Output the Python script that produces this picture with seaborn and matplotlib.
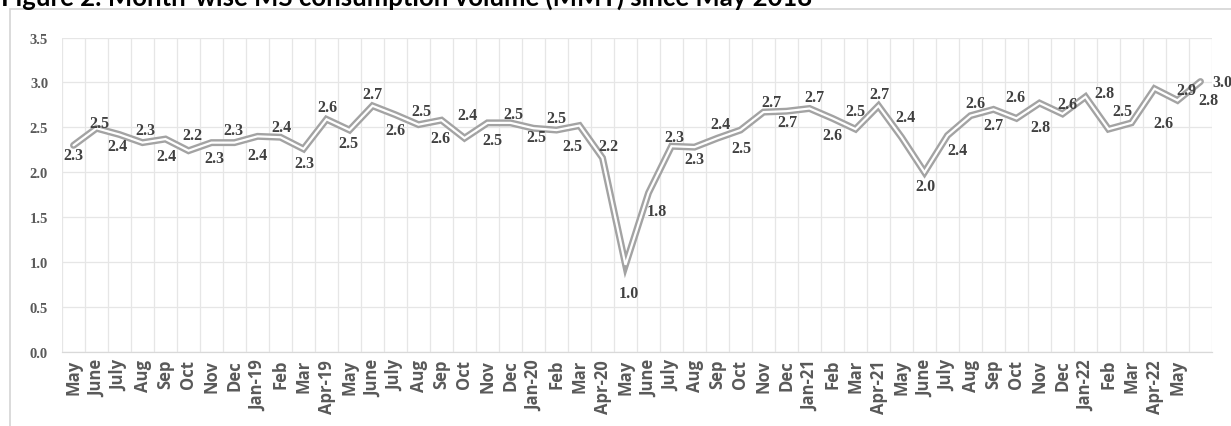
import numpy as np
import pandas as pd
import matplotlib
matplotlib.use("Agg")
import matplotlib.pyplot as plt
import seaborn as sns
from matplotlib.patches import Rectangle

# month labels on the x axis (last month has no printed label)
months = ["May", "June", "July", "Aug", "Sep", "Oct", "Nov", "Dec", "Jan-19", "Feb",
          "Mar", "Apr-19", "May", "June", "July", "Aug", "Sep", "Oct", "Nov", "Dec",
          "Jan-20", "Feb", "Mar", "Apr-20", "May", "June", "July", "Aug", "Sep", "Oct",
          "Nov", "Dec", "Jan-21", "Feb", "Mar", "Apr-21", "May", "June", "July", "Aug",
          "Sep", "Oct", "Nov", "Dec", "Jan-22", "Feb", "Mar", "Apr-22", "May", ""]

# MS consumption volume (MMT)
volume = [2.30, 2.49, 2.42, 2.33, 2.37, 2.24, 2.33, 2.33, 2.40, 2.39,
          2.26, 2.59, 2.47, 2.74, 2.64, 2.53, 2.58, 2.38, 2.55, 2.55,
          2.49, 2.47, 2.52, 2.16, 0.97, 1.77, 2.29, 2.28, 2.38, 2.47,
          2.67, 2.68, 2.71, 2.60, 2.48, 2.74, 2.39, 2.00, 2.41, 2.63,
          2.70, 2.60, 2.77, 2.65, 2.84, 2.48, 2.55, 2.93, 2.80, 3.01]

# data labels as printed on the chart
value_labels = ["2.3", "2.5", "2.4", "2.3", "2.4", "2.2", "2.3", "2.3", "2.4", "2.4",
                "2.3", "2.6", "2.5", "2.7", "2.6", "2.5", "2.6", "2.4", "2.5", "2.5",
                "2.5", "2.5", "2.5", "2.2", "1.0", "1.8", "2.3", "2.3", "2.4", "2.5",
                "2.7", "2.7", "2.7", "2.6", "2.5", "2.7", "2.4", "2.0", "2.4", "2.6",
                "2.7", "2.6", "2.8", "2.6", "2.8", "2.5", "2.6", "2.9", "2.8", "3.0"]

# label placement (pixels right / pixels down from the point)
label_offsets = [(0, 10), (3, -5), (-2, 11), (3, -13), (1, 17), (4, -16), (3, 15), (-1, -13),
                 (0, 19), (1, -10), (1, 14), (1, -12), (-1, 13), (0, -12), (0, 15), (3, -14),
                 (-1, 18), (3, -23), (5, 17), (3, -9), (3, 9), (0, -12), (-7, 20), (6, -12),
                 (3, 28), (8, 18), (3, -9), (0, 12), (3, -14), (1, 18), (8, -10), (1, 11),
                 (5, -11), (0, 17), (0, -18), (1, -12), (4, -20), (1, 14), (10, 15), (5, -13),
                 (0, 16), (-1, -21), (1, 24), (5, -10), (19, -4), (14, -18), (32, 0), (32, 1),
                 (31, 0), (22, 0)]

df = pd.DataFrame({"pos": np.arange(len(volume)), "volume": volume})

sns.set_theme(style="whitegrid")
W, H = 1231, 427
fig = plt.figure(figsize=(W / 100, H / 100), dpi=100)
ax = fig.add_axes([62 / W, 1 - 353 / H, 1150 / W, (353 - 38.5) / H])

grid_c = "#e6e6e6"

# double line: thick grey stroke with a thin white core
sns.lineplot(data=df, x="pos", y="volume", ax=ax, color="#a3a3a3", linewidth=5.0,
             solid_joinstyle="miter", zorder=3)
sns.lineplot(data=df, x="pos", y="volume", ax=ax, color="white", linewidth=1.6,
             solid_joinstyle="miter", zorder=4)

for i, (txt, (dx, dy)) in enumerate(zip(value_labels, label_offsets)):
    ax.annotate(txt, (i, volume[i]), xytext=(dx, -dy), textcoords="offset pixels",
                ha="center", va="center", fontsize=11.5, fontweight="bold",
                family="Liberation Serif", color="#404040", zorder=5,
                annotation_clip=False)

ax.set_xlim(-0.5, len(volume) - 0.5)
ax.set_ylim(0, 3.5)
ax.set_yticks(np.arange(0, 3.51, 0.5))
ax.set_yticklabels([f"{v:.1f}" for v in np.arange(0, 3.51, 0.5)],
                   family="Liberation Serif", fontweight="bold", fontsize=10.5, color="#595959")
ax.set_xticks(np.arange(len(months)))
ax.set_xticklabels(months, rotation=90, family="Open Sans", fontweight="bold",
                   fontsize=12, color="#595959")
ax.set_xticks(np.arange(-0.5, len(months), 1), minor=True)
ax.tick_params(axis="both", which="both", length=0)
ax.tick_params(axis="y", pad=10)
ax.tick_params(axis="x", pad=5)

ax.grid(False)
ax.grid(which="minor", axis="x", color=grid_c, linewidth=0.9)
ax.grid(which="major", axis="y", color=grid_c, linewidth=0.9)
ax.set_axisbelow(True)
for side in ["top", "right", "left"]:
    ax.spines[side].set_visible(False)
ax.spines["bottom"].set_color("#d9d9d9")
ax.spines["bottom"].set_linewidth(0.9)
ax.set_xlabel("")
ax.set_ylabel("")
ax.set_facecolor("white")

# chart area border (runs off the right and bottom of the image)
fig.patches.append(Rectangle((10 / W, -0.1), 1.2, 1.1 - 10 / H, transform=fig.transFigure,
                             fill=False, edgecolor="#d4d4d4", linewidth=1.2))

fig.text(0.001, 1 - 6 / H, "Figure 2: Month-wise MS consumption volume (MMT) since May 2018",
         va="baseline", ha="left", fontsize=18.5, fontweight="bold", family="Lato", color="black")

fig.savefig("out.png", dpi=100)
